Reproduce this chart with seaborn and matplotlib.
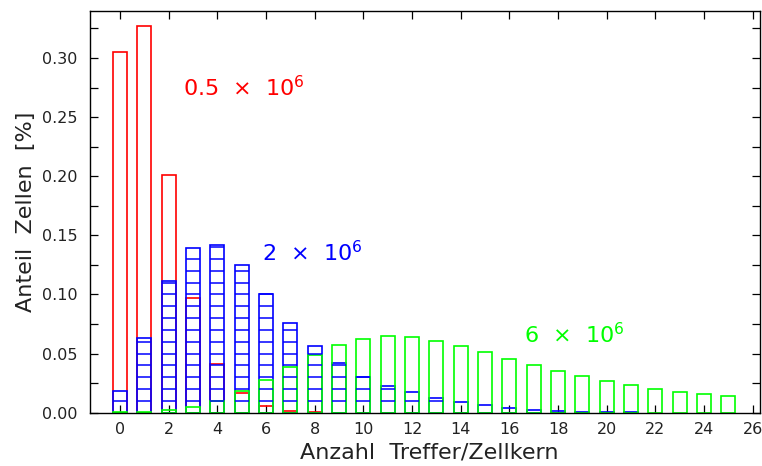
import numpy as np
import pandas as pd
import matplotlib
matplotlib.use("Agg")
import matplotlib.pyplot as plt
from matplotlib.ticker import MultipleLocator
import seaborn as sns

# ---- data ----
red_x = [0, 1, 2, 3, 4, 5, 6, 7, 8]
red_vals = [0.305, 0.327, 0.201, 0.097, 0.041, 0.0167, 0.006, 0.0016, 0.0006]

blue_x = list(range(0, 22))
blue_vals = [0.0185, 0.063, 0.111, 0.1395, 0.142, 0.125, 0.1005, 0.076, 0.0567,
             0.042, 0.0305, 0.023, 0.0175, 0.0124, 0.009, 0.0062, 0.004, 0.0025,
             0.0017, 0.001, 0.0006, 0.0003]

green_x = list(range(0, 26))
green_vals = [0.0002, 0.0008, 0.002, 0.0048, 0.010, 0.0185, 0.028, 0.039, 0.049,
              0.0575, 0.0625, 0.0647, 0.0638, 0.0607, 0.0565, 0.0514, 0.0458,
              0.0404, 0.0353, 0.0308, 0.0269, 0.0232, 0.020, 0.0178, 0.0155, 0.0138]

labels = ["0.5  \u00d7  10$^6$", "2  \u00d7  10$^6$", "6  \u00d7  10$^6$"]
x_ticks = list(range(0, 27, 2))
seg = 0.01

sns.set_style("ticks")
plt.rcParams['font.family'] = ['DejaVu Sans']

fig = plt.figure(figsize=(7.62, 4.66), dpi=100)
ax = fig.add_axes([90/762, (466-412.7)/466, (760-90)/762, (412.7-10.7)/466])

W = 0.58
sns.barplot(x=red_x, y=red_vals, native_scale=True, fill=False, color='#ff0000',
            width=W, linewidth=1.2, errorbar=None, ax=ax)
sns.barplot(x=blue_x, y=blue_vals, native_scale=True, fill=False, color='#0000ff',
            width=W, linewidth=1.2, errorbar=None, ax=ax)
# blue bars are drawn as stacks of 0.01 boxes
for xv, v in zip(blue_x, blue_vals):
    k = int(np.floor(v / seg - 1e-9))
    if k >= 1:
        ax.hlines([seg * i for i in range(1, k + 1)], xv - W/2, xv + W/2,
                  colors='#0000ff', linewidth=1.1)
sns.barplot(x=green_x, y=green_vals, native_scale=True, fill=False, color='#00ff00',
            width=W, linewidth=1.2, errorbar=None, ax=ax)

ax.set_xlim(-1.23, 26.3)
ax.set_ylim(0, 0.34)
ax.set_xticks(x_ticks)
ax.set_xticklabels([str(t) for t in x_ticks])
ax.yaxis.set_major_locator(MultipleLocator(0.05))
ax.yaxis.set_minor_locator(MultipleLocator(0.025))
ax.yaxis.set_major_formatter(matplotlib.ticker.FormatStrFormatter('%.2f'))
ax.tick_params(axis='both', which='both', direction='in', top=True, right=True,
               length=6, width=0.9, color='black', labelcolor='#222222',
               labelsize=11.5)
ax.tick_params(axis='x', pad=7)
ax.tick_params(axis='y', pad=9)
for s in ax.spines.values():
    s.set_visible(True)
    s.set_linewidth(1.0)
    s.set_color('black')

ax.set_xlabel("Anzahl  Treffer/Zellkern", fontsize=16, color='#222222', labelpad=2)
ax.xaxis.set_label_coords(0.506, -0.075)
ax.set_ylabel("Anteil  Zellen  [%]", fontsize=16, color='#222222', labelpad=4)

ax.text(2.6, 0.275, labels[0], color='#ff0000', fontsize=16, va='center', ha='left')
ax.text(5.83, 0.135, labels[1], color='#0000ff', fontsize=16, va='center', ha='left')
ax.text(16.6, 0.066, labels[2], color='#00ff00', fontsize=16, va='center', ha='left')

fig.savefig("out.png", dpi=100)
